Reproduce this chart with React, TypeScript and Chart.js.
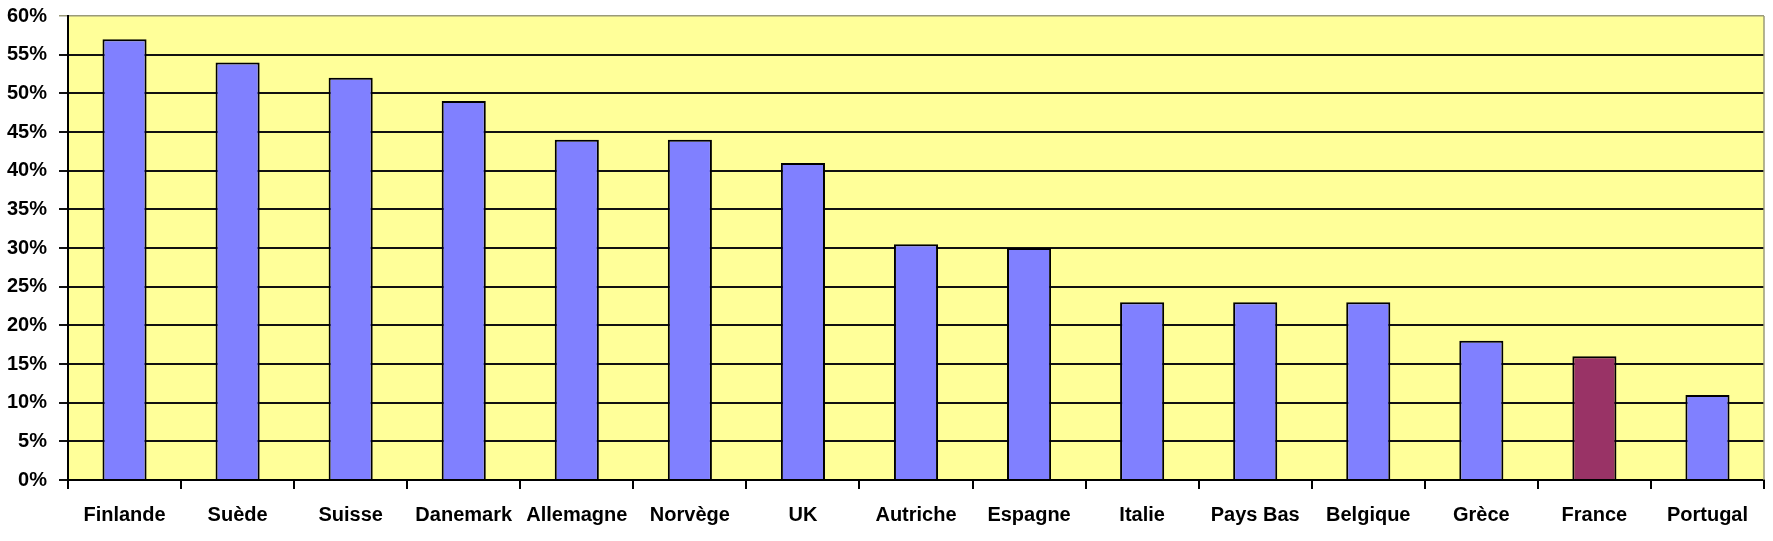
import React, { useEffect, useRef } from "react";
import { Chart, registerables } from "chart.js";

Chart.register(...registerables);

const categories = ["Finlande", "Suède", "Suisse", "Danemark", "Allemagne", "Norvège", "UK", "Autriche", "Espagne", "Italie", "Pays Bas", "Belgique", "Grèce", "France", "Portugal"];
const values = [57, 54, 52, 49, 44, 44, 41, 30.5, 30, 23, 23, 23, 18, 16, 11];
const highlight = "France";
const yTicks = [0, 5, 10, 15, 20, 25, 30, 35, 40, 45, 50, 55, 60];

const FONT = "'Liberation Sans', Arial, sans-serif";

const plotBg = {
  id: "plotBg",
  beforeDraw(chart: any) {
    const { ctx, chartArea } = chart;
    if (!chartArea) return;
    ctx.save();
    ctx.fillStyle = "#FFFF99";
    ctx.fillRect(chartArea.left, chartArea.top, chartArea.right - chartArea.left, chartArea.bottom - chartArea.top);
    ctx.restore();
  },
  afterDatasetsDraw(chart: any) {
    const { ctx, chartArea } = chart;
    if (!chartArea) return;
    ctx.save();
    ctx.strokeStyle = "#9a9a7a";
    ctx.lineWidth = 1.5;
    ctx.beginPath();
    ctx.moveTo(chartArea.right, chartArea.top);
    ctx.lineTo(chartArea.right, chartArea.bottom);
    ctx.stroke();
    ctx.restore();
  },
};

export default function App() {
  const ref = useRef<HTMLCanvasElement>(null);
  useEffect(() => {
    document.body.style.margin = "0";
    const chart = new Chart(ref.current as HTMLCanvasElement, {
      type: "bar",
      data: {
        labels: categories,
        datasets: [
          {
            data: values,
            backgroundColor: categories.map((c) => (c === highlight ? "#993366" : "#8080FF")),
            borderColor: "#000",
            borderWidth: 2,
            borderSkipped: "bottom",
            barPercentage: 0.39,
            categoryPercentage: 1,
          },
        ],
      },
      options: {
        animation: false,
        responsive: false,
        maintainAspectRatio: false,
        layout: { padding: { top: 16, right: 9, left: 0, bottom: 0 } },
        plugins: { legend: { display: false }, tooltip: { enabled: false } },
        scales: {
          x: {
            afterFit: (s: any) => { s.height = 61; s.paddingLeft = 0; s.paddingRight = 0; },
            grid: { display: true, drawOnChartArea: false, drawTicks: true, tickLength: 9, offset: true, color: "#000", lineWidth: 2 },
            border: { display: true, color: "#000", width: 2 },
            ticks: { color: "#000", font: { family: FONT, size: 20, weight: "bold" }, padding: 14, maxRotation: 0, autoSkip: false },
          },
          y: {
            min: 0,
            max: 60,
            afterFit: (s: any) => { s.width = 68; s.paddingTop = 0; s.paddingBottom = 0; },
            afterBuildTicks: (s: any) => { s.ticks = yTicks.map((v) => ({ value: v })); },
            grid: {
              display: true,
              drawOnChartArea: true,
              drawTicks: true,
              tickLength: 9,
              color: (c: any) => (c.tick && c.tick.value === 60 ? "#9a9a7a" : "#111"),
              lineWidth: (c: any) => (c.tick && c.tick.value === 60 ? 1.5 : 2),
            },
            border: { display: true, color: "#000", width: 2 },
            ticks: { color: "#000", font: { family: FONT, size: 20, weight: "bold" }, padding: 12, callback: (v: any) => v + "%" },
          },
        },
      },
      plugins: [plotBg],
    });
    return () => chart.destroy();
  }, []);
  return (
    <div style={{ position: "fixed", left: 0, top: 0, width: 1773, height: 541, background: "#fff" }}>
      <canvas ref={ref} width={1773} height={541} style={{ width: 1773, height: 541 }} />
    </div>
  );
}
